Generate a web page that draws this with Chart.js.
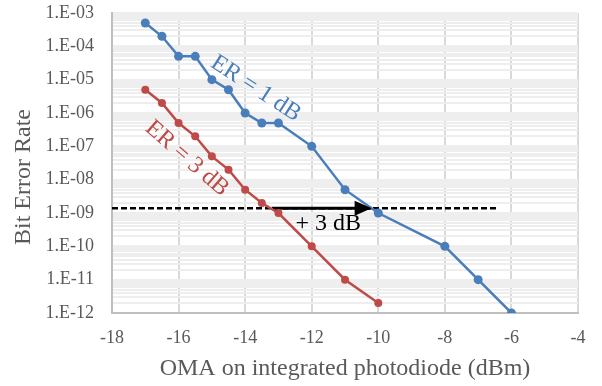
<!DOCTYPE html>
<html>
<head>
<meta charset="utf-8">
<script src="https://cdn.jsdelivr.net/npm/chart.js@4.4.1/dist/chart.umd.min.js"></script>
<style>
  html, body { margin: 0; padding: 0; background: #fff; }
</style>
</head>
<body>
<canvas id="berChart" width="602" height="386"></canvas>
<script>
// OMA on the photodiode (dBm) and measured BER for each extinction ratio
const omaEr1 = [-17, -16.5, -16, -15.5, -15, -14.5, -14, -13.5, -13, -12, -11, -10, -8, -7, -6];
const berEr1 = [5e-4, 2e-4, 5e-5, 5e-5, 1e-5, 5e-6, 1e-6, 5e-7, 5e-7, 1e-7, 5e-9, 1e-9, 1e-10, 1e-11, 1e-12];
const omaEr3 = [-17, -16.5, -16, -15.5, -15, -14.5, -14, -13.5, -13, -12, -11, -10];
const berEr3 = [5e-6, 2e-6, 5e-7, 2e-7, 5e-8, 2e-8, 5e-9, 2e-9, 1e-9, 1e-10, 1e-11, 2e-12];

// dashed threshold and the "+3 dB" arrow
const thresholdBer = 1.4e-9;
const thresholdX = [-18, -6.4];
const arrowX = [-13.2, -10.2];

// axis ticks
const xTicks = [-18, -16, -14, -12, -10, -8, -6, -4];
const yDecades = [1e-12, 1e-11, 1e-10, 1e-9, 1e-8, 1e-7, 1e-6, 1e-5, 1e-4, 1e-3];
const yTickLabels = ['1.E-12', '1.E-11', '1.E-10', '1.E-09', '1.E-08', '1.E-07', '1.E-06', '1.E-05', '1.E-04', '1.E-03'];

// text labels placed in data coordinates
const labels = [
    { text: 'ER = 1 dB', x: -13.68, y: 5.4e-6, angle: 33, color: '#4a7ebb' },
    { text: 'ER = 3 dB', x: -15.75, y: 4.3e-8, angle: 41, color: '#be4b48' },
    { text: '+ 3 dB', x: -11.5, y: 4.7e-10, angle: 0, color: '#000000' }
];

const blue = '#4a7ebb';
const red = '#be4b48';
const serif = 'Liberation Serif';

// minor log gridlines 1..9 x 10^n
const yGridTicks = [];
yDecades.forEach(function (d, i) {
    if (i === yDecades.length - 1) {
        yGridTicks.push(d);
        return;
    }
    for (let k = 1; k < 10; k++) yGridTicks.push(d * k);
});

function pts(xs, ys) {
    return xs.map((x, i) => ({ x: x, y: ys[i] }));
}

const annotationPlugin = {
    id: 'annotations',
    afterDatasetsDraw(chart) {
        const ctx = chart.ctx;
        const xs = chart.scales.x;
        const ys = chart.scales.y;

        // arrow head at the end of the solid arrow
        const tipX = xs.getPixelForValue(arrowX[1]);
        const tipY = ys.getPixelForValue(thresholdBer);
        ctx.save();
        ctx.fillStyle = '#000';
        ctx.beginPath();
        ctx.moveTo(tipX, tipY);
        ctx.lineTo(tipX - 17, tipY - 7.5);
        ctx.lineTo(tipX - 17, tipY + 7.5);
        ctx.closePath();
        ctx.fill();

        ctx.font = '24px "' + serif + '"';
        ctx.textAlign = 'center';
        ctx.textBaseline = 'middle';
        labels.forEach(function (l) {
            ctx.save();
            ctx.translate(xs.getPixelForValue(l.x), ys.getPixelForValue(l.y));
            ctx.rotate(l.angle * Math.PI / 180);
            ctx.fillStyle = l.color;
            ctx.fillText(l.text, 0, 0);
            ctx.restore();
        });

        // y axis title, sits a bit below the plot centre like the original
        ctx.save();
        ctx.translate(24, (ys.top + ys.bottom) / 2 + 14);
        ctx.rotate(-Math.PI / 2);
        ctx.fillStyle = '#595959';
        ctx.fillText('Bit Error Rate', 0, 0);
        ctx.restore();
        ctx.restore();
    }
};

const ctx = document.getElementById('berChart').getContext('2d');
new Chart(ctx, {
    type: 'scatter',
    data: {
        datasets: [
            {
                label: 'ER = 1 dB',
                data: pts(omaEr1, berEr1),
                showLine: true,
                borderColor: blue,
                backgroundColor: blue,
                borderWidth: 2.5,
                pointRadius: 4.5,
                pointBorderWidth: 0
            },
            {
                label: 'ER = 3 dB',
                data: pts(omaEr3, berEr3),
                showLine: true,
                borderColor: red,
                backgroundColor: red,
                borderWidth: 2.5,
                pointRadius: 4,
                pointBorderWidth: 0
            },
            {
                label: 'arrow',
                data: pts(arrowX, [thresholdBer, thresholdBer]),
                showLine: true,
                borderColor: '#000',
                borderWidth: 3,
                pointRadius: 0
            },
            {
                label: 'threshold',
                data: pts(thresholdX, [thresholdBer, thresholdBer]),
                showLine: true,
                borderColor: '#000',
                borderWidth: 2.5,
                borderDash: [6, 3],
                pointRadius: 0
            }
        ]
    },
    options: {
        responsive: false,
        animation: false,
        events: [],
        layout: { padding: { top: 13, right: 24, bottom: 0, left: 0 } },
        plugins: {
            legend: { display: false },
            tooltip: { enabled: false }
        },
        scales: {
            x: {
                type: 'linear',
                min: -18,
                max: -4,
                afterFit: function (scale) { scale.height = 73; },
                afterBuildTicks: function (scale) {
                    scale.ticks = xTicks.map(v => ({ value: v }));
                },
                ticks: {
                    color: '#595959',
                    font: { family: serif, size: 18 },
                    padding: 14
                },
                grid: { color: '#d9d9d9', lineWidth: 2, drawTicks: false },
                border: { color: '#bfbfbf', width: 2 },
                title: {
                    display: true,
                    text: 'OMA on integrated photodiode (dBm)',
                    color: '#595959',
                    font: { family: serif, size: 24 },
                    padding: { top: 0, bottom: 3 }
                }
            },
            y: {
                type: 'logarithmic',
                min: 1e-12,
                max: 1e-3,
                afterFit: function (scale) {
                    scale.width = 112;
                    scale.paddingTop = 11;
                    scale.paddingBottom = 11;
                },
                afterBuildTicks: function (scale) {
                    scale.ticks = yGridTicks.map(v => ({ value: v, major: yDecades.indexOf(v) >= 0 }));
                },
                ticks: {
                    autoSkip: false,
                    color: '#595959',
                    font: { family: serif, size: 18 },
                    padding: 18,
                    callback: function (value) {
                        const i = yDecades.indexOf(value);
                        return i >= 0 ? yTickLabels[i] : '';
                    }
                },
                grid: { color: '#eeeeee', lineWidth: 2, drawTicks: false },
                border: { color: '#bfbfbf', width: 2 }
            }
        }
    },
    plugins: [annotationPlugin]
});
</script>
</body>
</html>
